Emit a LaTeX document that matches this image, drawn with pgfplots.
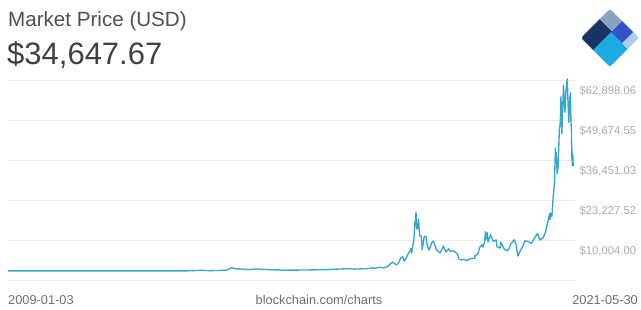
\documentclass[border=0pt]{standalone}
\usepackage{fontspec}
\setmainfont{Liberation Sans}
\usepackage{pgfplots}
\pgfplotsset{compat=1.18}
\definecolor{btc}{RGB}{56,165,206}
\definecolor{gridgray}{RGB}{234,234,234}
\definecolor{labelgray}{RGB}{170,170,170}
\definecolor{titlegray}{RGB}{80,80,80}
\definecolor{numgray}{RGB}{64,64,64}
\definecolor{footgray}{RGB}{110,110,110}
\definecolor{lnavy}{RGB}{24,52,100}
\definecolor{lgray}{RGB}{135,163,192}
\definecolor{lroyal}{RGB}{52,82,200}
\definecolor{llight}{RGB}{172,204,232}
\definecolor{lcyan}{RGB}{28,170,226}
\begin{document}
\begin{tikzpicture}[x=1pt,y=1pt]
\path[use as bounding box] (0,0) rectangle (641,310);
\begin{axis}[
  at={(8pt,28.5pt)}, anchor=south west,
  scale only axis, width=568pt, height=203.2pt,
  xmin=2009.005, xmax=2021.47,
  ymin=-3500, ymax=63500,
  axis line style={draw=none},
  xtick=\empty,
  scaled y ticks=false,
  ytick={-3219.52,10004,23227.52,36451.03,49674.55,62898.06},
  yticklabels={{},{\$10,004.00},{\$23,227.52},{\$36,451.03},{\$49,674.55},{\$62,898.06}},
  yticklabel pos=right,
  ymajorgrids,
  grid style={draw=gridgray, line width=0.8pt},
  major tick length=0pt,
  yticklabel style={anchor=west, xshift=0pt, yshift=-11pt, font=\fontsize{11.3}{13}\selectfont, text=labelgray},
]
\addplot[btc, line width=1.35pt, line join=round] coordinates {
(2009.005,0) (2010.0,0) (2010.55,0.06) (2011.1,1) (2011.45,18) (2011.9,3)
(2012.5,7) (2012.95,13) (2013.27,190) (2013.3,110) (2013.5,90) (2013.8,200)
(2013.88,800) (2013.92,1150) (2013.97,700) (2014.1,650) (2014.3,450) (2014.45,650)
(2014.7,400) (2014.95,320) (2015.04,220) (2015.5,280) (2015.85,380) (2016.0,430)
(2016.45,720) (2016.6,580) (2016.9,750)
(2017.000,1000) (2017.011,1100) (2017.030,800) (2017.085,980) (2017.153,1180)
(2017.186,1200) (2017.225,940) (2017.285,1180) (2017.329,1420) (2017.367,1750)
(2017.395,2400) (2017.414,2400) (2017.444,2950) (2017.479,2500) (2017.534,1950)
(2017.581,2750) (2017.619,4200) (2017.666,4700) (2017.701,3200) (2017.748,4400)
(2017.778,5400) (2017.800,6000) (2017.833,6700) (2017.852,7400) (2017.863,5900)
(2017.885,8000) (2017.907,9800) (2017.915,10900) (2017.932,16000) (2017.940,15000)
(2017.959,19300) (2017.973,13800) (2017.997,14000)
(2018.014,17000) (2018.041,11500) (2018.074,11500) (2018.096,7000) (2018.137,11200)
(2018.173,11500) (2018.208,8200) (2018.247,6900) (2018.310,9400) (2018.340,9800)
(2018.403,7100) (2018.444,6500) (2018.488,5900) (2018.559,8200) (2018.616,6200)
(2018.674,7300) (2018.704,6500) (2018.786,6600) (2018.868,5600) (2018.899,3900)
(2018.953,3600) (2018.997,3800)
(2019.038,3600) (2019.101,3500) (2019.148,4100) (2019.244,4100) (2019.252,5000)
(2019.312,5500) (2019.364,8000) (2019.411,8600) (2019.425,7800) (2019.466,9500)
(2019.482,12900) (2019.499,10500) (2019.521,12600) (2019.540,9500) (2019.595,11900)
(2019.655,9700) (2019.718,10200) (2019.734,8000) (2019.808,7500) (2019.816,9500)
(2019.899,7100) (2019.959,6600) (2019.997,7200)
(2020.036,8800) (2020.115,10300) (2020.159,8600) (2020.192,4900) (2020.244,6400)
(2020.323,8800) (2020.348,9900) (2020.408,9700) (2020.493,9100) (2020.567,11000)
(2020.625,12300) (2020.677,10200) (2020.745,10800) (2020.803,12800) (2020.844,15600)
(2020.896,19100) (2020.901,17000) (2020.915,19000) (2020.942,18000) (2020.956,21300)
(2020.967,24000) (2020.997,29000)
(2021.019,40500) (2021.027,35500) (2021.036,39000) (2021.058,32000) (2021.077,34300)
(2021.104,46400) (2021.126,49000) (2021.140,57500) (2021.159,45200) (2021.195,61200)
(2021.227,52300) (2021.247,59000) (2021.279,63300) (2021.293,56200) (2021.312,49000)
(2021.334,57000) (2021.348,58800) (2021.359,49100) (2021.370,46400) (2021.378,37000)
(2021.381,40600) (2021.389,34700) (2021.400,38500) (2021.408,34647.67)
};
\end{axis}
% titles
\node[anchor=base west, inner sep=0, text=titlegray, font=\fontsize{20.6}{22}\selectfont] at (8,283.3) {Market Price (USD)};
\node[anchor=base west, inner sep=0, text=numgray, font=\fontsize{31}{34}\selectfont] at (7,245) {\$34,647.67};
% footer
\node[anchor=base west, inner sep=0, text=footgray, font=\fontsize{12.8}{14}\selectfont] at (8,5) {2009-01-03};
\node[anchor=base, inner sep=0, text=footgray, font=\fontsize{12.8}{14}\selectfont] at (319,5) {blockchain.com/charts};
\node[anchor=base east, inner sep=0, text=footgray, font=\fontsize{12.8}{14}\selectfont] at (638,5) {2021-05-30};
% logo: diamond, left (581,272), top (610,301), bottom (610,243), right (639,272)
\begin{scope}[shift={(581,272)}, x={(29pt,29pt)}, y={(29pt,-29pt)}]
  \begin{scope}
  \clip[rounded corners=2.5pt] (0,0) -- (1,0) -- (1,1) -- (0,1) -- cycle;
  \fill[lnavy] (0,0) -- (0.65,0) -- (0.65,0.42) -- (0,0.42) -- cycle;
  \fill[lgray] (0.65,0) -- (1,0) -- (1,0.42) -- (0.65,0.42) -- cycle;
  \fill[lcyan] (0,0.42) -- (0.62,0.42) -- (0.62,1) -- (0,1) -- cycle;
  \fill[lroyal] (0.62,0.42) -- (1,0.42) -- (1,0.8) -- (0.62,0.8) -- cycle;
  \fill[llight] (0.62,0.8) -- (1,0.8) -- (1,1) -- (0.62,1) -- cycle;
  \end{scope}
\end{scope}
\end{tikzpicture}
\end{document}
